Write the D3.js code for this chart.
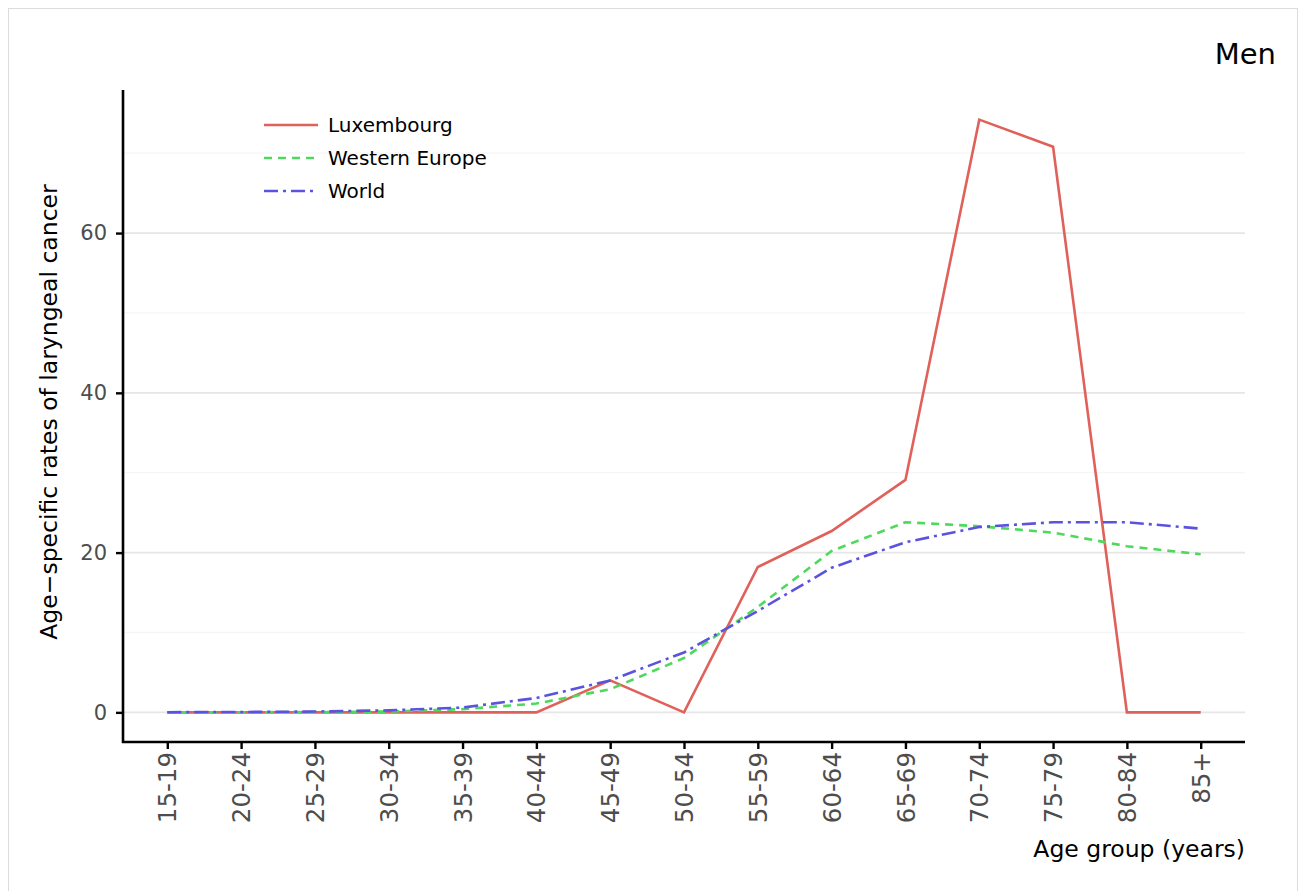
<!DOCTYPE html>
<html><head><meta charset="utf-8">
<script src="https://cdn.jsdelivr.net/npm/d3@7"></script>
<style>body{margin:0;background:#fff;} svg{display:block;font-family:"DejaVu Sans",sans-serif;}</style>
</head><body>
<svg id="c" width="1311" height="891"></svg>
<script>
const ageGroups = ["15-19","20-24","25-29","30-34","35-39","40-44","45-49","50-54","55-59","60-64","65-69","70-74","75-79","80-84","85+"];
const luxembourg = [0,0,0,0,0,0,4.0,0,18.2,22.7,29.1,74.2,70.8,0,0];
const westernEurope = [0.01,0.02,0.03,0.1,0.4,1.1,2.9,6.8,13.2,20.2,23.8,23.3,22.5,20.8,19.8];
const world = [0.02,0.05,0.1,0.25,0.6,1.8,4.0,7.5,12.7,18.1,21.3,23.2,23.8,23.8,23.0];
const seriesNames = ["Luxembourg","Western Europe","World"];
const yTicks = [0,20,40,60];
const yMinor = [10,30,50,70];

const colors = ["#E0605A","#4FD95C","#5B53DE"];
const dashes = [null,"8,6","14,5,3,5"];
const data = [luxembourg, westernEurope, world];

const svg = d3.select("#c");
// page frame
svg.append("rect").attr("x",8.5).attr("y",8.5).attr("width",1289).attr("height",900)
  .attr("fill","none").attr("stroke","#dcdcdc").attr("stroke-width",1);

const L=123, R=1245, T=90, B=742;
const x = d3.scalePoint().domain(ageGroups).range([L,R]).padding(0.6);
const ymax = d3.max(data.flat());
const pad = ymax*0.05;
const y = d3.scaleLinear().domain([-pad, ymax+pad]).range([B,T]);

// grid
svg.append("g").selectAll("line").data(yMinor).join("line")
  .attr("x1",L).attr("x2",R).attr("y1",d=>y(d)).attr("y2",d=>y(d))
  .attr("stroke","#f6f6f6").attr("stroke-width",1.3);
svg.append("g").selectAll("line").data(yTicks).join("line")
  .attr("x1",L).attr("x2",R).attr("y1",d=>y(d)).attr("y2",d=>y(d))
  .attr("stroke","#e6e6e6").attr("stroke-width",1.8);

// lines
const line = d3.line().x((d,i)=>x(ageGroups[i])).y(d=>y(d));
data.forEach((s,k)=>{
  svg.append("path").datum(s).attr("d",line).attr("fill","none")
    .attr("stroke",colors[k]).attr("stroke-width",2.6)
    .attr("stroke-dasharray",dashes[k]);
});

// axes
const yAxis = svg.append("g").attr("transform",`translate(${L},0)`)
  .call(d3.axisLeft(y).tickValues(yTicks).tickSize(7).tickPadding(9));
const xAxis = svg.append("g").attr("transform",`translate(0,${B})`)
  .call(d3.axisBottom(x).tickSize(7).tickPadding(5));
[yAxis,xAxis].forEach(a=>{
  a.select(".domain").attr("stroke","#000").attr("stroke-width",2.6);
  a.selectAll(".tick line").attr("stroke","#000").attr("stroke-width",2.4);
  a.selectAll("text").attr("fill","#4d4d4d").attr("font-family","DejaVu Sans");
});
yAxis.selectAll("text").attr("font-size",21);
xAxis.selectAll("text").attr("font-size",24.5);
yAxis.select(".domain").attr("d",`M0,${T}V${B+1}`);
xAxis.select(".domain").attr("d",`M${L-1},0H${R}`);
xAxis.selectAll("text").attr("transform","rotate(-90)").attr("text-anchor","end")
  .attr("x",-10).attr("y",0).attr("dy","0.35em");

// axis titles
svg.append("text").attr("transform","translate(57,412) rotate(-90)").attr("text-anchor","middle")
  .attr("font-size",23.5).attr("fill","#000").text("Age\u2212specific rates of laryngeal cancer");
svg.append("text").attr("x",R).attr("y",857).attr("text-anchor","end")
  .attr("font-size",23.5).attr("fill","#000").text("Age group (years)");
svg.append("text").attr("x",1276).attr("y",64).attr("text-anchor","end")
  .attr("font-size",29).attr("fill","#000").text("Men");

// legend
const lg = svg.append("g");
seriesNames.forEach((n,k)=>{
  const yy = 125 + k*33;
  lg.append("line").attr("x1",264).attr("x2",318).attr("y1",yy).attr("y2",yy)
    .attr("stroke",colors[k]).attr("stroke-width",2.6).attr("stroke-dasharray",dashes[k]);
  lg.append("text").attr("x",328).attr("y",yy).attr("dy","0.35em")
    .attr("font-size",20).attr("fill","#000").text(n);
});
</script>
</body></html>
